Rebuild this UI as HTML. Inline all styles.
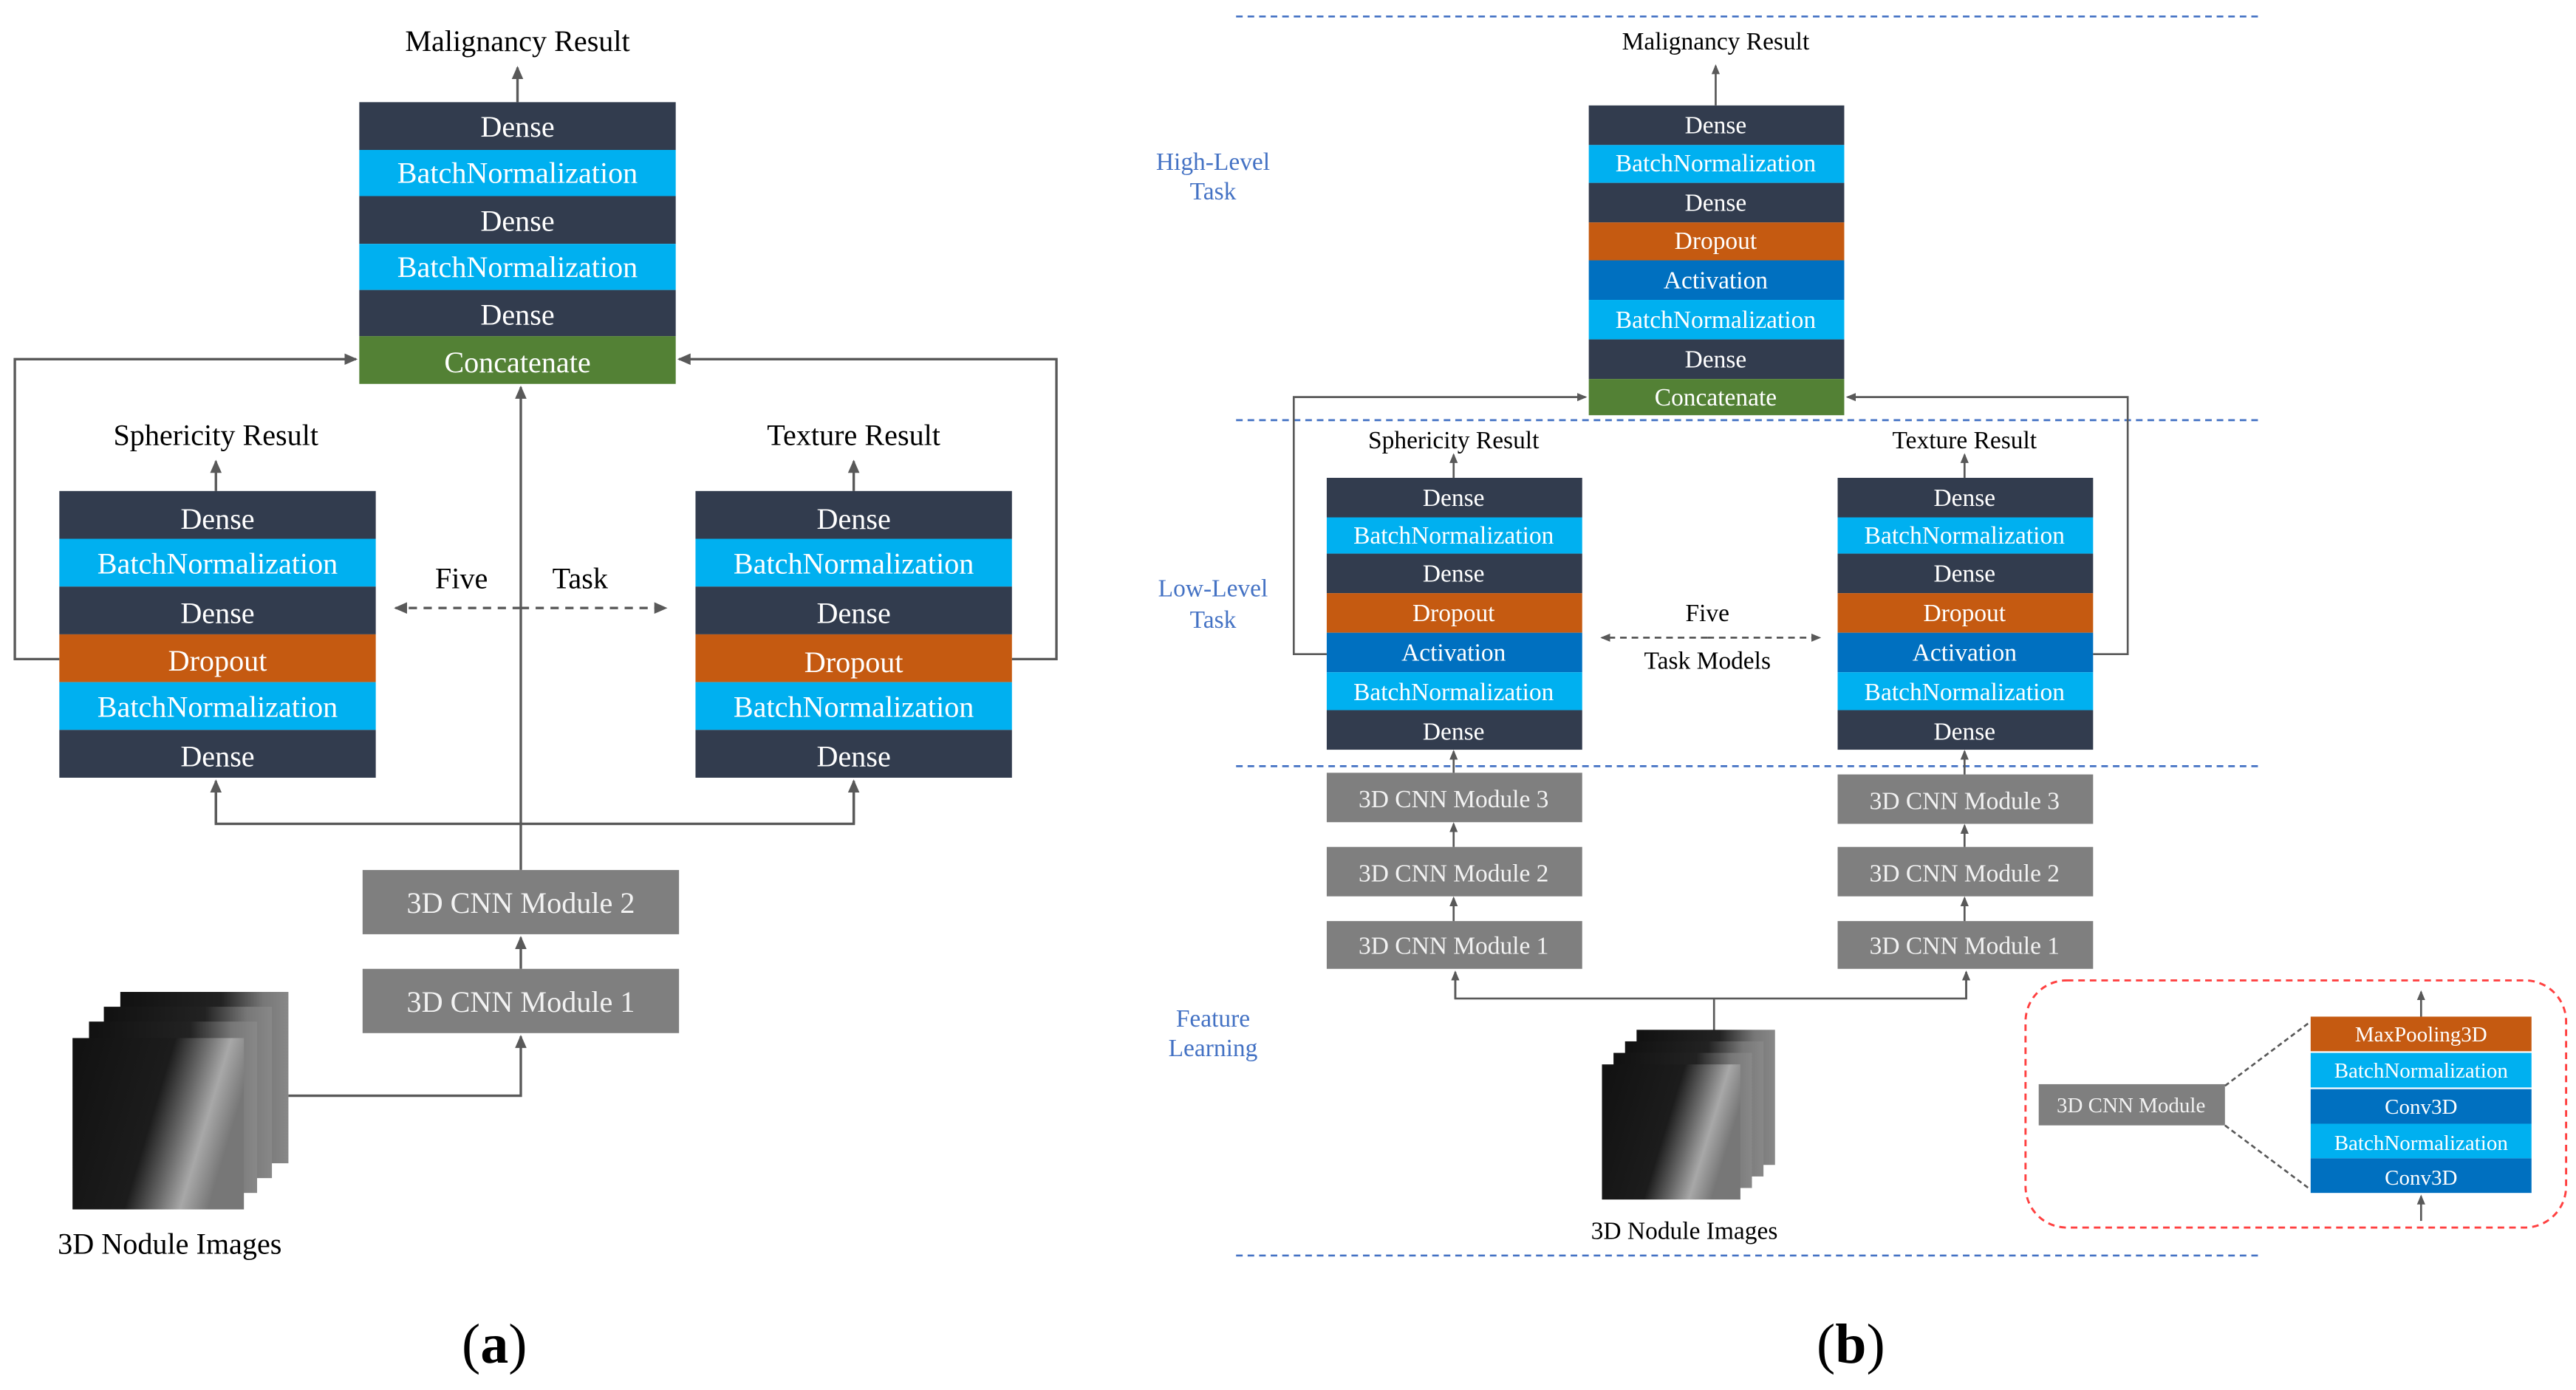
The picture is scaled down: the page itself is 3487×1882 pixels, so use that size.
<!DOCTYPE html>
<html><head><meta charset="utf-8"><style>
html,body{margin:0;padding:0;background:#fff}
svg{display:block}
svg text{font-family:"Liberation Serif","DejaVu Serif",serif !important}
</style></head><body>
<svg width="3487" height="1882" viewBox="0 0 1563 843.6" preserveAspectRatio="none" xmlns="http://www.w3.org/2000/svg" font-family="Liberation Serif, DejaVu Serif, serif">
<defs>
<marker id="ar" markerWidth="8" markerHeight="8" refX="7" refY="4" orient="auto" markerUnits="userSpaceOnUse"><path d="M0,0.5 L8,4 L0,7.5 Z" fill="#595959"/></marker>
<marker id="ars" markerWidth="6" markerHeight="6" refX="5" refY="3" orient="auto" markerUnits="userSpaceOnUse"><path d="M0,0.5 L6,3 L0,5.5 Z" fill="#595959"/></marker>
<linearGradient id="ng" x1="0" y1="0" x2="1" y2="0.3">
<stop offset="0" stop-color="#111"/><stop offset="0.55" stop-color="#1c1c1c"/><stop offset="0.72" stop-color="#6a6a6a"/><stop offset="0.85" stop-color="#a8a8a8"/><stop offset="1" stop-color="#777"/>
</linearGradient>
<linearGradient id="ng2" x1="0" y1="0" x2="1" y2="0">
<stop offset="0" stop-color="#111"/><stop offset="0.6" stop-color="#222"/><stop offset="0.85" stop-color="#777"/><stop offset="1" stop-color="#888"/>
</linearGradient>
</defs>
<rect width="1563" height="843.6" fill="#fff"/>

<!-- ========== PANEL A ========== -->
<g font-size="18" fill="#fff" text-anchor="middle">
<text x="314" y="31" fill="#000">Malignancy Result</text>
<line x1="314" y1="62" x2="314" y2="41" stroke="#595959" stroke-width="1.5" marker-end="url(#ar)"/>
<rect x="218" y="62" width="192" height="29" fill="#323C4E"/><text x="314" y="83">Dense</text>
<rect x="218" y="91" width="192" height="28" fill="#00B0F0"/><text x="314" y="111">BatchNormalization</text>
<rect x="218" y="119" width="192" height="29" fill="#323C4E"/><text x="314" y="140">Dense</text>
<rect x="218" y="148" width="192" height="28" fill="#00B0F0"/><text x="314" y="168">BatchNormalization</text>
<rect x="218" y="176" width="192" height="28" fill="#323C4E"/><text x="314" y="197">Dense</text>
<rect x="218" y="204" width="192" height="29" fill="#538135"/><text x="314" y="226">Concatenate</text>

<text x="131" y="270" fill="#000">Sphericity Result</text>
<text x="518" y="270" fill="#000">Texture Result</text>
<line x1="131" y1="298" x2="131" y2="280" stroke="#595959" stroke-width="1.5" marker-end="url(#ar)"/>
<line x1="518" y1="298" x2="518" y2="280" stroke="#595959" stroke-width="1.5" marker-end="url(#ar)"/>

<g>
<rect x="36" y="298" width="192" height="29" fill="#323C4E"/><text x="132" y="321">Dense</text>
<rect x="36" y="327" width="192" height="29" fill="#00B0F0"/><text x="132" y="348">BatchNormalization</text>
<rect x="36" y="356" width="192" height="29" fill="#323C4E"/><text x="132" y="378">Dense</text>
<rect x="36" y="385" width="192" height="29" fill="#C55A11"/><text x="132" y="407">Dropout</text>
<rect x="36" y="414" width="192" height="29" fill="#00B0F0"/><text x="132" y="435">BatchNormalization</text>
<rect x="36" y="443" width="192" height="29" fill="#323C4E"/><text x="132" y="465">Dense</text>
</g>
<g>
<rect x="422" y="298" width="192" height="29" fill="#323C4E"/><text x="518" y="321">Dense</text>
<rect x="422" y="327" width="192" height="29" fill="#00B0F0"/><text x="518" y="348">BatchNormalization</text>
<rect x="422" y="356" width="192" height="29" fill="#323C4E"/><text x="518" y="378">Dense</text>
<rect x="422" y="385" width="192" height="29" fill="#C55A11"/><text x="518" y="408">Dropout</text>
<rect x="422" y="414" width="192" height="29" fill="#00B0F0"/><text x="518" y="435">BatchNormalization</text>
<rect x="422" y="443" width="192" height="29" fill="#323C4E"/><text x="518" y="465">Dense</text>
</g>

<text x="280" y="357" fill="#000">Five</text>
<text x="352" y="357" fill="#000">Task</text>
</g>
<g fill="none" stroke="#595959" stroke-width="1.5">
<polyline points="36,400 9,400 9,218 216,218" marker-end="url(#ar)"/>
<polyline points="614,400 641,400 641,218 412,218" marker-end="url(#ar)"/>
<line x1="316" y1="369" x2="240" y2="369" stroke-dasharray="5,4" marker-end="url(#ar)"/>
<line x1="316" y1="369" x2="404" y2="369" stroke-dasharray="5,4" marker-end="url(#ar)"/>
<line x1="316" y1="528" x2="316" y2="235" marker-end="url(#ar)"/>
<polyline points="131,474 131,500 518,500 518,474"/>
<line x1="131" y1="500" x2="131" y2="474" marker-end="url(#ar)"/>
<line x1="518" y1="500" x2="518" y2="474" marker-end="url(#ar)"/>
<line x1="316" y1="588" x2="316" y2="569" marker-end="url(#ar)"/>
<polyline points="175,665 316,665 316,629" marker-end="url(#ar)"/>
</g>
<g font-size="18" fill="#fff" text-anchor="middle">
<rect x="220" y="528" width="192" height="39" fill="#7F7F7F"/><text x="316" y="554" fill="#f2f2f2">3D CNN Module 2</text>
<rect x="220" y="588" width="192" height="39" fill="#7F7F7F"/><text x="316" y="614" fill="#f2f2f2">3D CNN Module 1</text>
</g>
<g>
<rect x="73" y="602" width="102" height="104" fill="url(#ng2)"/>
<rect x="63" y="611" width="102" height="104" fill="url(#ng2)"/>
<rect x="54" y="620" width="102" height="104" fill="url(#ng2)"/>
<rect x="44" y="630" width="104" height="104" fill="url(#ng)"/>
</g>
<text x="103" y="761" font-size="18" text-anchor="middle">3D Nodule Images</text>
<text x="300" y="827" font-size="34" text-anchor="middle">(<tspan font-weight="bold">a</tspan>)</text>

<!-- ========== PANEL B ========== -->
<g stroke="#4472C4" stroke-width="1.2" stroke-dasharray="4,3">
<line x1="750" y1="10" x2="1372" y2="10"/>
<line x1="750" y1="255" x2="1372" y2="255"/>
<line x1="750" y1="465" x2="1372" y2="465"/>
<line x1="750" y1="762" x2="1372" y2="762"/>
</g>
<g font-size="15" fill="#4472C4" text-anchor="middle">
<text x="736" y="103">High-Level</text><text x="736" y="121">Task</text>
<text x="736" y="362">Low-Level</text><text x="736" y="381">Task</text>
<text x="736" y="623">Feature</text><text x="736" y="641">Learning</text>
</g>
<g font-size="15" fill="#fff" text-anchor="middle">
<text x="1041" y="30" fill="#000">Malignancy Result</text>
<rect x="964" y="64" width="155" height="24" fill="#323C4E"/><text x="1041" y="81">Dense</text>
<rect x="964" y="88" width="155" height="23" fill="#00B0F0"/><text x="1041" y="104">BatchNormalization</text>
<rect x="964" y="111" width="155" height="24" fill="#323C4E"/><text x="1041" y="128">Dense</text>
<rect x="964" y="135" width="155" height="23" fill="#C55A11"/><text x="1041" y="151">Dropout</text>
<rect x="964" y="158" width="155" height="24" fill="#0070C0"/><text x="1041" y="175">Activation</text>
<rect x="964" y="182" width="155" height="24" fill="#00B0F0"/><text x="1041" y="199">BatchNormalization</text>
<rect x="964" y="206" width="155" height="24" fill="#323C4E"/><text x="1041" y="223">Dense</text>
<rect x="964" y="230" width="155" height="22" fill="#538135"/><text x="1041" y="246">Concatenate</text>

<text x="882" y="272" fill="#000">Sphericity Result</text>
<text x="1192" y="272" fill="#000">Texture Result</text>

<g>
<rect x="805" y="290" width="155" height="24" fill="#323C4E"/><text x="882" y="307">Dense</text>
<rect x="805" y="314" width="155" height="22" fill="#00B0F0"/><text x="882" y="330">BatchNormalization</text>
<rect x="805" y="336" width="155" height="24" fill="#323C4E"/><text x="882" y="353">Dense</text>
<rect x="805" y="360" width="155" height="24" fill="#C55A11"/><text x="882" y="377">Dropout</text>
<rect x="805" y="384" width="155" height="24" fill="#0070C0"/><text x="882" y="401">Activation</text>
<rect x="805" y="408" width="155" height="23" fill="#00B0F0"/><text x="882" y="425">BatchNormalization</text>
<rect x="805" y="431" width="155" height="24" fill="#323C4E"/><text x="882" y="449">Dense</text>
</g>
<g>
<rect x="1115" y="290" width="155" height="24" fill="#323C4E"/><text x="1192" y="307">Dense</text>
<rect x="1115" y="314" width="155" height="22" fill="#00B0F0"/><text x="1192" y="330">BatchNormalization</text>
<rect x="1115" y="336" width="155" height="24" fill="#323C4E"/><text x="1192" y="353">Dense</text>
<rect x="1115" y="360" width="155" height="24" fill="#C55A11"/><text x="1192" y="377">Dropout</text>
<rect x="1115" y="384" width="155" height="24" fill="#0070C0"/><text x="1192" y="401">Activation</text>
<rect x="1115" y="408" width="155" height="23" fill="#00B0F0"/><text x="1192" y="425">BatchNormalization</text>
<rect x="1115" y="431" width="155" height="24" fill="#323C4E"/><text x="1192" y="449">Dense</text>
</g>
<text x="1036" y="377" fill="#000">Five</text>
<text x="1036" y="406" fill="#000">Task Models</text>

<g fill="#f2f2f2">
<rect x="805" y="469" width="155" height="30" fill="#7F7F7F"/><text x="882" y="490">3D CNN Module 3</text>
<rect x="805" y="514" width="155" height="30" fill="#7F7F7F"/><text x="882" y="535">3D CNN Module 2</text>
<rect x="805" y="559" width="155" height="29" fill="#7F7F7F"/><text x="882" y="579">3D CNN Module 1</text>
<rect x="1115" y="470" width="155" height="30" fill="#7F7F7F"/><text x="1192" y="491">3D CNN Module 3</text>
<rect x="1115" y="514" width="155" height="30" fill="#7F7F7F"/><text x="1192" y="535">3D CNN Module 2</text>
<rect x="1115" y="559" width="155" height="29" fill="#7F7F7F"/><text x="1192" y="579">3D CNN Module 1</text>
</g>
<text x="1022" y="752" fill="#000">3D Nodule Images</text>
<text x="1123" y="827" font-size="34" fill="#000">(<tspan font-weight="bold">b</tspan>)</text>
</g>
<g fill="none" stroke="#595959" stroke-width="1.2">
<line x1="1041" y1="64" x2="1041" y2="40" marker-end="url(#ars)"/>
<line x1="882" y1="290" x2="882" y2="276" marker-end="url(#ars)"/>
<line x1="1192" y1="290" x2="1192" y2="276" marker-end="url(#ars)"/>
<polyline points="805,397 785,397 785,241 962,241" marker-end="url(#ars)"/>
<polyline points="1270,397 1291,397 1291,241 1121,241" marker-end="url(#ars)"/>
<line x1="1036" y1="387" x2="972" y2="387" stroke-dasharray="4,3" marker-end="url(#ars)"/>
<line x1="1036" y1="387" x2="1104" y2="387" stroke-dasharray="4,3" marker-end="url(#ars)"/>
<line x1="882" y1="469" x2="882" y2="456" marker-end="url(#ars)"/>
<line x1="1192" y1="470" x2="1192" y2="456" marker-end="url(#ars)"/>
<line x1="882" y1="514" x2="882" y2="500" marker-end="url(#ars)"/>
<line x1="1192" y1="514" x2="1192" y2="501" marker-end="url(#ars)"/>
<line x1="882" y1="559" x2="882" y2="545" marker-end="url(#ars)"/>
<line x1="1192" y1="559" x2="1192" y2="545" marker-end="url(#ars)"/>
<polyline points="883,590 883,606 1193,606 1193,590"/>
<line x1="883" y1="606" x2="883" y2="590" marker-end="url(#ars)"/>
<line x1="1193" y1="606" x2="1193" y2="590" marker-end="url(#ars)"/>
<line x1="1040" y1="606" x2="1040" y2="626"/>
</g>
<g>
<rect x="993" y="625" width="84" height="82" fill="url(#ng2)"/>
<rect x="986" y="632" width="84" height="82" fill="url(#ng2)"/>
<rect x="979" y="639" width="84" height="82" fill="url(#ng2)"/>
<rect x="972" y="646" width="84" height="82" fill="url(#ng)"/>
</g>

<rect x="1229" y="595" width="328" height="150" rx="25" ry="25" fill="none" stroke="#FF4040" stroke-width="1.3" stroke-dasharray="4,3"/>
<g font-size="13" fill="#fff" text-anchor="middle">
<rect x="1237" y="658" width="113" height="25" fill="#7F7F7F"/><text x="1293" y="675" fill="#f2f2f2">3D CNN Module</text>
<rect x="1402" y="617" width="134" height="21" fill="#C55A11"/><text x="1469" y="632">MaxPooling3D</text>
<rect x="1402" y="639" width="134" height="21" fill="#00B0F0"/><text x="1469" y="654">BatchNormalization</text>
<rect x="1402" y="661" width="134" height="21" fill="#0070C0"/><text x="1469" y="676">Conv3D</text>
<rect x="1402" y="682" width="134" height="21" fill="#00B0F0"/><text x="1469" y="698">BatchNormalization</text>
<rect x="1402" y="703" width="134" height="21" fill="#0070C0"/><text x="1469" y="719">Conv3D</text>
</g>
<g fill="none" stroke="#595959" stroke-width="1.2">
<line x1="1350" y1="659" x2="1402" y2="620" stroke-dasharray="3,2"/>
<line x1="1350" y1="683" x2="1402" y2="722" stroke-dasharray="3,2"/>
<line x1="1469" y1="617" x2="1469" y2="602" marker-end="url(#ars)"/>
<line x1="1469" y1="741" x2="1469" y2="726" marker-end="url(#ars)"/>
</g>
</svg>
</body></html>
